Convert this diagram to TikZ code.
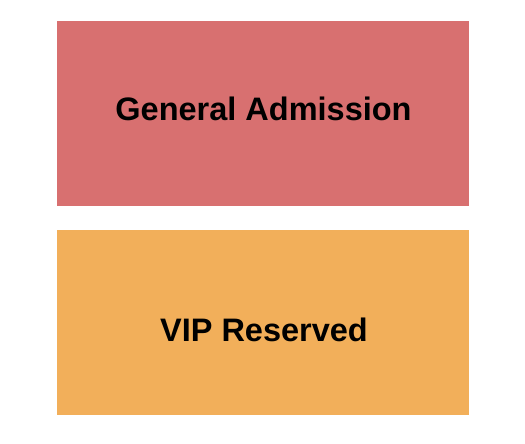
\documentclass[tikz,border=0pt]{standalone}
\usepackage{fontspec}
\setmainfont{Liberation Sans}
\definecolor{garea}{RGB}{216,112,112}
\definecolor{varea}{RGB}{242,175,90}
\begin{document}
\begin{tikzpicture}[x=1pt,y=1pt,
  section/.style={inner sep=0pt,outer sep=0pt,draw=none},
  lbl/.style={anchor=base,inner sep=0pt,font=\fontsize{32.5}{36}\selectfont\bfseries}]
\useasboundingbox (0,0) rectangle (525,444);
\fill[white] (0,0) rectangle (525,444);
\node[section,fill=garea,minimum width=412pt,minimum height=185pt] (ga) at (263,330.5) {};
\node[section,fill=varea,minimum width=412pt,minimum height=185.5pt] (vip) at (263,121.25) {};
\node[lbl] (galbl) at ([xshift=0.5pt,yshift=-7.5pt]ga.center) {General Admission};
\node[lbl] (viplbl) at ([xshift=1pt,yshift=-18.3pt]vip.center) {VIP Reserved};
\end{tikzpicture}
\end{document}
